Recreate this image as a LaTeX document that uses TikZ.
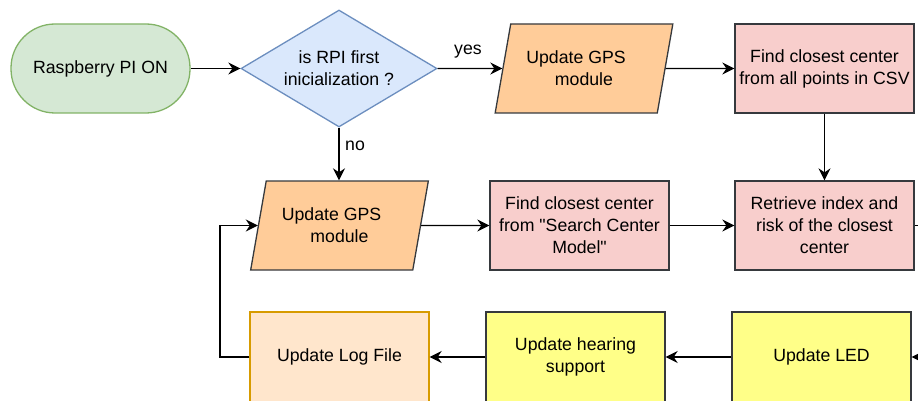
\documentclass[tikz,border=0pt]{standalone}
\usepackage{fontspec}
\setmainfont{Liberation Sans}[Ligatures=TeXOff]
\usetikzlibrary{shapes.geometric,arrows.meta}
\definecolor{greenfill}{HTML}{D5E8D4}
\definecolor{greenline}{HTML}{82B366}
\definecolor{bluefill}{HTML}{DAE8FC}
\definecolor{blueline}{HTML}{6C8EBF}
\definecolor{orangefill}{HTML}{FFCC99}
\definecolor{redfill}{HTML}{F8CECC}
\definecolor{yellowfill}{HTML}{FFFF88}
\definecolor{logfill}{HTML}{FFE6CC}
\definecolor{logline}{HTML}{D79B00}
\definecolor{darkline}{HTML}{36393D}
\newcommand{\diagfont}{\fontsize{17.7pt}{22pt}\selectfont}
\begin{document}
\begin{tikzpicture}[x=1pt,y=-1pt,
  base/.style={draw=darkline, line width=1.3pt, inner sep=2pt, align=center, font=\diagfont, text=black},
  procbox/.style={base, rectangle, minimum width=179pt, minimum height=89pt},
  startbox/.style={base, rectangle, rounded corners=44pt, draw=greenline, fill=greenfill, minimum width=179pt, minimum height=89pt},
  decision/.style={base, diamond, draw=blueline, fill=bluefill, minimum width=196pt, minimum height=117pt, inner sep=0pt},
  iobox/.style={base, trapezium, trapezium left angle=72, trapezium right angle=108, trapezium stretches=true, fill=orangefill, minimum width=178pt, minimum height=89pt},
  redbox/.style={procbox, fill=redfill},
  yellowbox/.style={procbox, fill=yellowfill, minimum height=90pt},
  logbox/.style={procbox, draw=logline, fill=logfill, minimum height=90pt},
  lbl/.style={font=\diagfont, text=black, inner sep=0pt},
  arr/.style={line width=1.4pt, draw=black, -{Stealth[length=12pt,width=12pt,inset=4pt]}},
  plain/.style={line width=1.4pt, draw=black}
]
\clip (0,0) rectangle (918,401);
\fill[white] (0,0) rectangle (918,401);

\node[startbox] (start) at (100.5,68.5) {Raspberry PI ON};
\node[decision, label={[lbl, align=center]center:{is RPI first\\inicialization ?}}] (dec) at (339,68.5) {};
\node[iobox] (gps1) at (584,68.5) {Update GPS\hspace*{16pt}\\module};
\node[redbox] (fc) at (824.5,68.5) {Find closest center\\from all points in CSV};
\node[redbox] (ret) at (824.5,225.5) {Retrieve index and\\risk of the closest\\center};
\node[iobox] (gps2) at (339.5,225.5) {Update GPS\hspace*{16pt}\\module};
\node[redbox] (sc) at (579.5,225.5) {Find closest center\\from "Search Center\\Model"};
\node[yellowbox] (led) at (821.5,357) {Update LED};
\node[yellowbox] (hear) at (575.5,357) {Update hearing\\support};
\node[logbox] (log) at (339.5,357) {Update Log File};

\node[lbl] (lyes) at (468,52) {yes};
\node[lbl] (lno) at (355,146) {no};

\coordinate (rt1) at (945,225.5);
\coordinate (lf1) at (220,357);

\draw[arr] (start.east) -- (dec.west);
\draw[arr] (dec.east) -- (gps1.west);
\draw[arr] (dec.south) -- (dec.south |- gps2.north);
\draw[arr] (gps1.east) -- (fc.west);
\draw[arr] (fc.south) -- (ret.north);
\draw[arr] (gps2.east) -- (sc.west);
\draw[arr] (sc.east) -- (ret.west);
\draw[arr] (ret.east) -- (rt1) |- (led.east);
\draw[arr] (led.west) -- (hear.east);
\draw[arr] (hear.west) -- (log.east);
\draw[arr] (log.west) -- (lf1) |- (gps2.west);
\end{tikzpicture}
\end{document}
